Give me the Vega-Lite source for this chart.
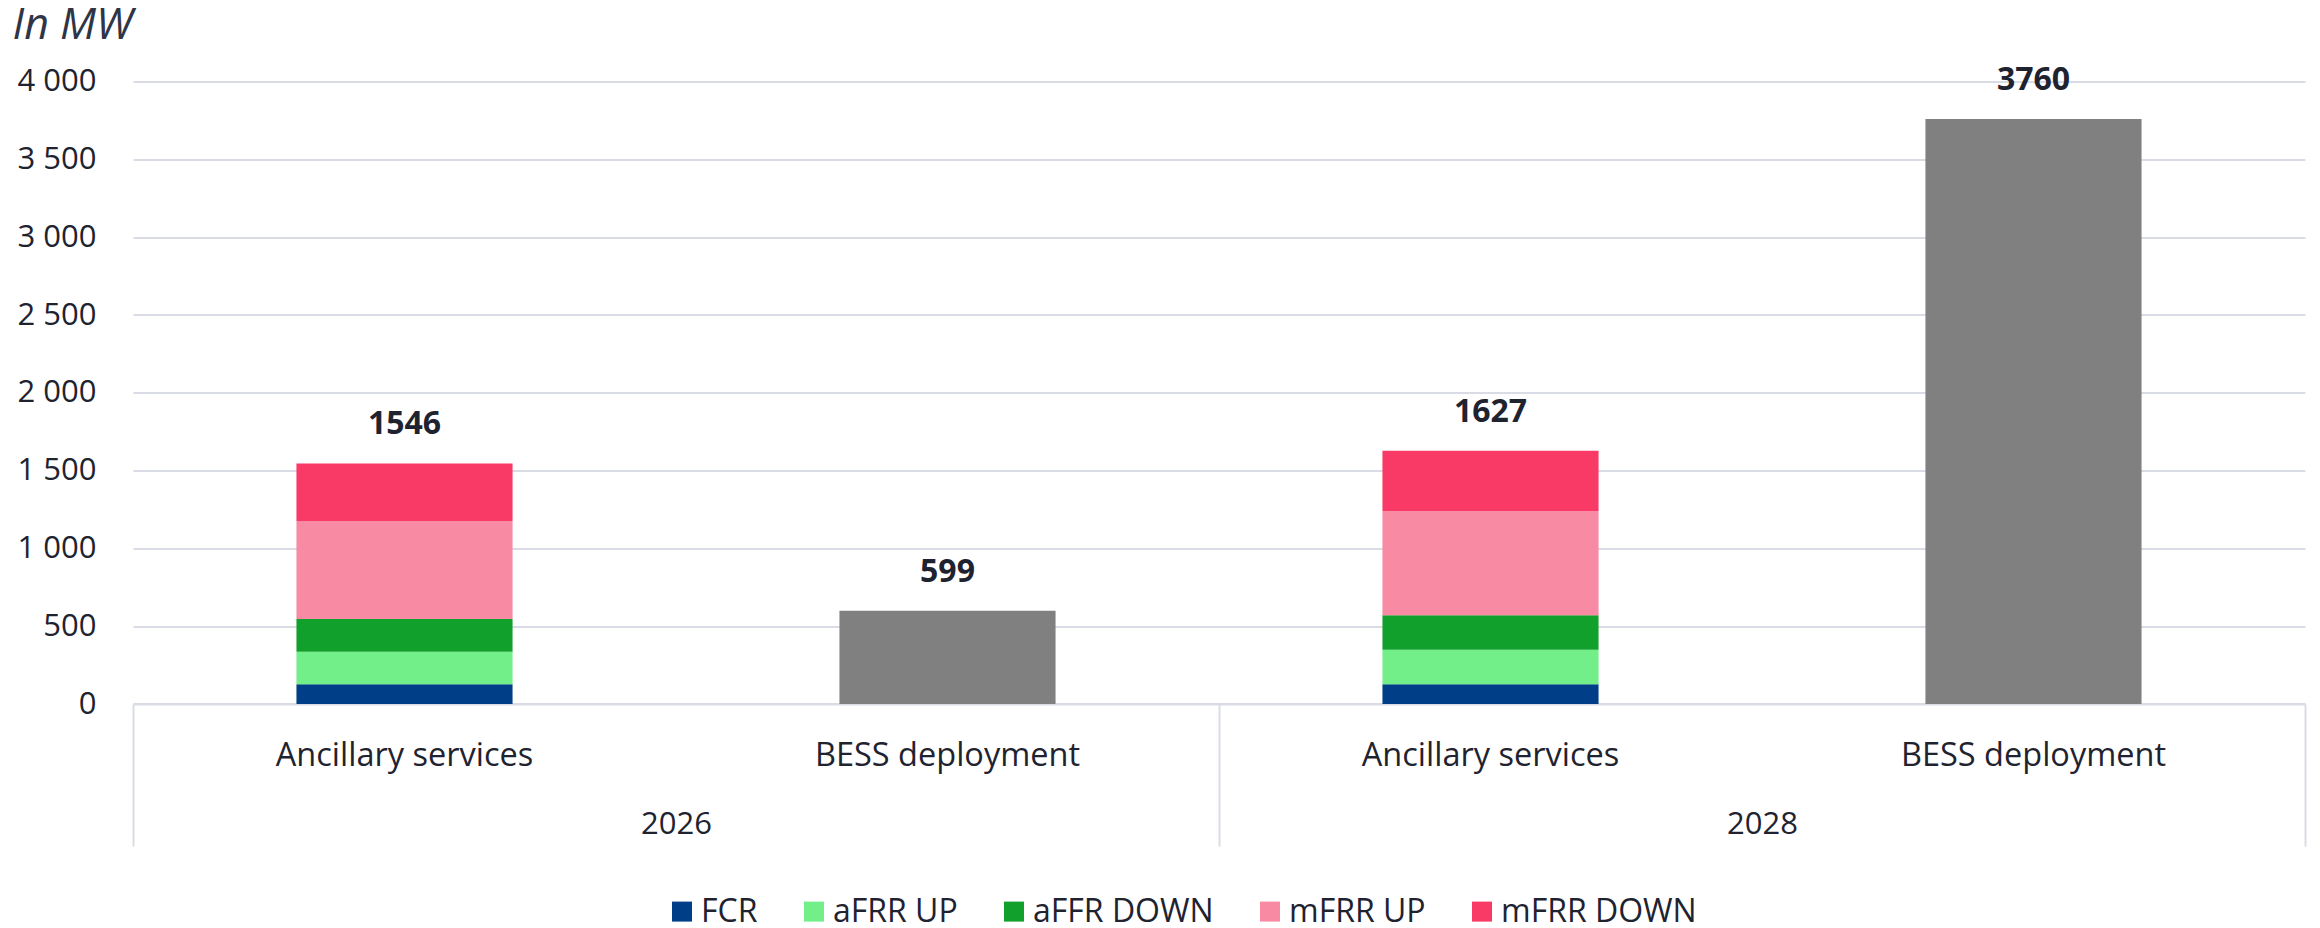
{
  "$schema": "https://vega.github.io/schema/vega-lite/v6.json",
  "width": 2172,
  "height": 622.4,
  "autosize": {"type": "none"},
  "padding": {"left": 133, "top": 81.6, "right": 15, "bottom": 224},
  "background": "white",
  "config": {
    "font": "Open Sans",
    "view": {"stroke": null},
    "axis": {"labelFont": "Open Sans", "labelColor": "#1F2330", "titleFont": "Open Sans", "labelLimit": 600},
    "legend": {"labelFont": "Open Sans", "labelColor": "#1F2330", "labelLimit": 600}
  },
  "data": {
    "values": [
      {"year": "2026", "slot": "2026|Ancillary services", "series": "FCR", "idx": 1, "value": 127},
      {"year": "2026", "slot": "2026|Ancillary services", "series": "aFRR UP", "idx": 2, "value": 209},
      {"year": "2026", "slot": "2026|Ancillary services", "series": "aFFR DOWN", "idx": 3, "value": 210},
      {"year": "2026", "slot": "2026|Ancillary services", "series": "mFRR UP", "idx": 4, "value": 630},
      {"year": "2026", "slot": "2026|Ancillary services", "series": "mFRR DOWN", "idx": 5, "value": 370},
      {"year": "2026", "slot": "2026|BESS deployment", "series": "BESS", "idx": 0, "value": 599},
      {"year": "2028", "slot": "2028|Ancillary services", "series": "FCR", "idx": 1, "value": 127},
      {"year": "2028", "slot": "2028|Ancillary services", "series": "aFRR UP", "idx": 2, "value": 222},
      {"year": "2028", "slot": "2028|Ancillary services", "series": "aFFR DOWN", "idx": 3, "value": 221},
      {"year": "2028", "slot": "2028|Ancillary services", "series": "mFRR UP", "idx": 4, "value": 670},
      {"year": "2028", "slot": "2028|Ancillary services", "series": "mFRR DOWN", "idx": 5, "value": 387},
      {"year": "2028", "slot": "2028|BESS deployment", "series": "BESS", "idx": 0, "value": 3760}
    ]
  },
  "layer": [
    {
      "layer": [
        {
          "mark": {"type": "bar"},
          "encoding": {
            "x": {
              "field": "slot", "type": "nominal", "sort": null, "title": null,
              "scale": {"paddingInner": 0.602, "paddingOuter": 0.301},
              "axis": {
                "orient": "bottom",
                "labelExpr": "split(datum.label, '|')[1]",
                "ticks": false, "tickSize": 0, "labelAngle": 0, "labelPadding": 35,
                "labelFontSize": 32.5, "labelLimit": 600, "domainColor": "#D9DCE5", "domainWidth": 2, "grid": false
              }
            },
            "y": {
              "field": "value", "type": "quantitative", "stack": "zero", "title": "In MW",
              "scale": {"domain": [0, 4000]},
              "axis": {
                "values": [0, 500, 1000, 1500, 2000, 2500, 3000, 3500, 4000],
                "labelExpr": "replace(format(datum.value, ','), ',', ' ')",
                "labelFontSize": 31, "labelPadding": 37, "labelBaseline": "middle",
                "domain": false, "ticks": false, "tickSize": 0,
                "gridColor": "#D9DCE5", "gridWidth": 2,
                "titleAngle": 0, "titleAlign": "left", "titleBaseline": "middle",
                "titleX": -121, "titleY": -56, "titleFontStyle": "italic", "titleFontWeight": "normal",
                "titleFontSize": 43, "titleColor": "#2F3546"
              }
            },
            "color": {
              "field": "series", "type": "nominal",
              "scale": {
                "domain": ["FCR", "aFRR UP", "aFFR DOWN", "mFRR UP", "mFRR DOWN", "BESS"],
                "range": ["#003F87", "#72EF88", "#12A02C", "#F98AA3", "#F93A66", "#808080"]
              },
              "legend": {
                "orient": "none", "legendX": 533, "legendY": 814, "direction": "horizontal",
                "title": null,
                "values": ["FCR", "aFRR UP", "aFFR DOWN", "mFRR UP", "mFRR DOWN"],
                "symbolType": "square", "symbolSize": 400, "symbolStrokeWidth": 0, "symbolOpacity": 1,
                "labelFontSize": 32, "labelOffset": 3, "columnPadding": 40, "labelLimit": 600
              }
            },
            "order": {"field": "idx", "type": "quantitative", "sort": "ascending"}
          }
        },
        {
          "transform": [
            {"aggregate": [{"op": "sum", "field": "value", "as": "total"}], "groupby": ["slot"]}
          ],
          "mark": {"type": "text", "fontWeight": "bold", "fontSize": 32, "dy": -29, "baseline": "alphabetic", "color": "#1F2330", "font": "Open Sans"},
          "encoding": {
            "x": {"field": "slot", "type": "nominal", "sort": null, "title": null},
            "y": {"field": "total", "type": "quantitative", "title": "In MW"},
            "text": {"field": "total", "type": "quantitative", "format": "d"}
          }
        }
      ]
    },
    {
      "mark": {"type": "bar", "opacity": 0},
      "encoding": {
        "x": {
          "field": "year", "type": "nominal", "title": null,
          "scale": {"paddingInner": 0, "paddingOuter": 0},
          "axis": {
            "orient": "bottom", "domain": false, "grid": false,
            "ticks": true, "tickBand": "extent", "tickSize": 142,
            "tickColor": "#D9DCE5", "tickWidth": 2,
            "labelAngle": 0, "labelPadding": -36.5, "labelFontSize": 31
          }
        }
      }
    }
  ],
  "resolve": {"scale": {"x": "independent"}, "axis": {"x": "independent"}}
}
